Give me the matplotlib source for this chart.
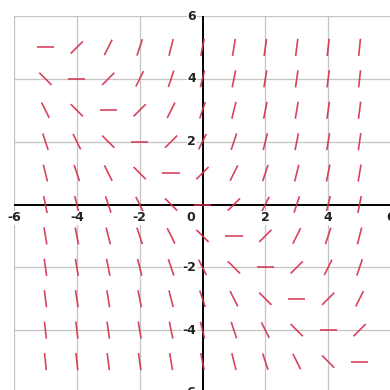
import numpy as np
import matplotlib
matplotlib.use("Agg")
import matplotlib.pyplot as plt

# Grid of sample points for the slope field of dy/dx = x + y
xs = [-5, -4, -3, -2, -1, 0, 1, 2, 3, 4, 5]
ys = [5, 4, 3, 2, 1, 0, -1, -2, -3, -4, -5]
# slopes[i][j] is the slope at (xs[j], ys[i])
slopes = [
    [0, 1, 2, 3, 4, 5, 6, 7, 8, 9, 10],
    [-1, 0, 1, 2, 3, 4, 5, 6, 7, 8, 9],
    [-2, -1, 0, 1, 2, 3, 4, 5, 6, 7, 8],
    [-3, -2, -1, 0, 1, 2, 3, 4, 5, 6, 7],
    [-4, -3, -2, -1, 0, 1, 2, 3, 4, 5, 6],
    [-5, -4, -3, -2, -1, 0, 1, 2, 3, 4, 5],
    [-6, -5, -4, -3, -2, -1, 0, 1, 2, 3, 4],
    [-7, -6, -5, -4, -3, -2, -1, 0, 1, 2, 3],
    [-8, -7, -6, -5, -4, -3, -2, -1, 0, 1, 2],
    [-9, -8, -7, -6, -5, -4, -3, -2, -1, 0, 1],
    [-10, -9, -8, -7, -6, -5, -4, -3, -2, -1, 0],
]
tick_vals = [-6, -4, -2, 0, 2, 4, 6]
tick_labels = ["-6", "-4", "-2", "0", "2", "4", "6"]

seg_len = 0.55
seg_color = "#d2304c"

fig = plt.figure(figsize=(3.9, 3.9), dpi=100)
ax = fig.add_axes([14 / 390, -3 / 390, 377 / 390, 377 / 390])
ax.set_xlim(-6, 6)
ax.set_ylim(-6, 6)
ax.set_aspect("equal")
for s in ax.spines.values():
    s.set_visible(False)
ax.set_xticks([])
ax.set_yticks([])

# light grid
for v in tick_vals:
    if v == 0:
        continue
    ax.axvline(v, color="#c4c4c4", lw=0.9, zorder=1)
    ax.axhline(v, color="#c4c4c4", lw=0.9, zorder=1)
# axes through the origin
ax.axvline(0, color="black", lw=1.4, zorder=2)
ax.axhline(0, color="black", lw=1.4, zorder=2)

# slope segments
for i, yv in enumerate(ys):
    for j, xv in enumerate(xs):
        ang = np.arctan(slopes[i][j])
        dx = 0.5 * seg_len * np.cos(ang)
        dy = 0.5 * seg_len * np.sin(ang)
        ax.plot([xv - dx, xv + dx], [yv - dy, yv + dy], color=seg_color,
                lw=1.2, solid_capstyle="butt", zorder=3, alpha=0.9)

# tick labels
for v, lab in zip(tick_vals, tick_labels):
    if v == 0:
        ax.text(-0.38, -0.22, lab, ha="center", va="top", fontsize=9,
                fontweight="bold", color="#222222", zorder=4)
        continue
    ax.text(v, -0.22, lab, ha="center", va="top", fontsize=9,
            fontweight="bold", color="#222222", zorder=4,
            bbox=dict(fc="white", ec="none", pad=0.3))
    ax.text(-0.2, v, lab, ha="right", va="center", fontsize=9,
            fontweight="bold", color="#222222", zorder=4,
            bbox=dict(fc="white", ec="none", pad=0.3))

fig.savefig("out.png", dpi=100, facecolor="white")
